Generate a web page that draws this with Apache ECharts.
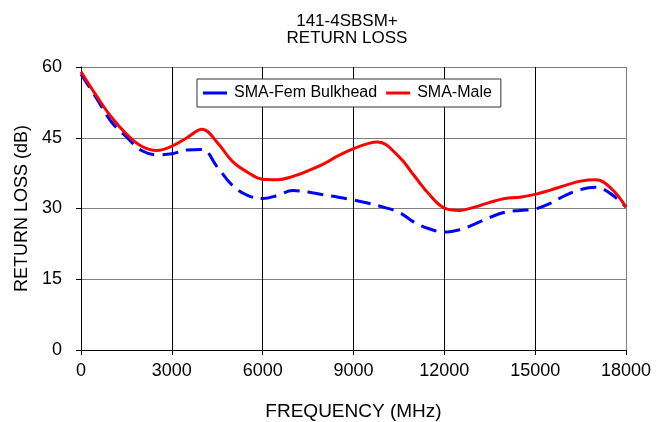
<!DOCTYPE html>
<html>
<head>
<meta charset="utf-8">
<script src="https://cdn.jsdelivr.net/npm/echarts@6/dist/echarts.min.js"></script>
<style>
  html, body { margin: 0; padding: 0; background: #fff; }
  #chart { width: 667px; height: 422px; }
</style>
</head>
<body>
<div id="chart"></div>
<script>
const freqs = [
  0, 500, 1000, 1500, 2000, 2500, 3000, 3500, 4000, 4500, 5000, 5500, 6000,
  6500, 7000, 7500, 8000, 8500, 9000, 9500, 9800, 10500, 11000, 11500, 12000,
  12500, 13000, 13500, 14000, 14500, 15000, 15500, 16000, 16500, 17000, 17500, 18000,
];
const femBulkhead = [
  58.5, 53.5, 48.4, 45.2, 42.3, 41.4, 41.6, 42.4, 42.5, 38.8, 34.9, 32.8, 32.1,
  32.8, 33.8, 33.5, 32.9, 32.4, 31.8, 31.1, 30.6, 29.2, 27.1, 25.7, 25.0,
  25.5, 26.7, 28.1, 29.2, 29.6, 29.9, 31.1, 32.8, 34.0, 34.5, 33.1, 30.3,
];
const smaMale = [
  59.0, 54.0, 49.4, 45.8, 43.2, 42.3, 43.2, 45.0, 46.8, 44.0, 40.0, 37.7, 36.2,
  36.1, 36.8, 38.0, 39.4, 41.2, 42.7, 43.8, 44.1, 41.0, 37.0, 33.0, 30.1,
  29.6, 30.3, 31.3, 32.1, 32.4, 33.0, 33.9, 34.9, 35.8, 36.1, 34.3, 30.3,
];
const seriesNames = ["SMA-Fem Bulkhead", "SMA-Male"];

const font = "Liberation Sans, Arial, sans-serif";
const chart = echarts.init(document.getElementById("chart"), null, { renderer: "canvas" });

const toPairs = (values) => freqs.map((f, i) => [f, values[i]]);

chart.setOption({
  animation: false,
  title: {
    text: "141-4SBSM+\nRETURN LOSS",
    left: 347,
    top: 13,
    padding: 0,
    textAlign: "center",
    textStyle: {
      fontFamily: font,
      fontSize: 17,
      fontWeight: "normal",
      color: "#000",
      lineHeight: 17,
    },
  },
  legend: {
    data: seriesNames.map((name) => ({ name, icon: "rect" })),
    left: 197,
    top: 79,
    padding: [6, 9, 6, 6],
    itemWidth: 24,
    itemHeight: 3,
    itemGap: 9,
    backgroundColor: "#fff",
    borderColor: "#333",
    borderWidth: 1,
    borderRadius: 0,
    textStyle: { fontFamily: font, fontSize: 16, color: "#000", padding: [0, 0, 0, 2] },
  },
  grid: {
    left: 81,
    right: 41,
    top: 67,
    bottom: 72,
    containLabel: false,
    outerBoundsMode: "none",
  },
  xAxis: {
    type: "value",
    min: 0,
    max: 18000,
    interval: 3000,
    name: "FREQUENCY (MHz)",
    nameLocation: "middle",
    nameGap: 52,
    nameTextStyle: { fontFamily: font, fontSize: 19, color: "#000" },
    axisLine: { show: true, lineStyle: { color: "#000", width: 1 } },
    axisTick: { show: true, inside: false, length: 5, lineStyle: { color: "#000" } },
    axisLabel: {
      fontFamily: font,
      fontSize: 18,
      color: "#000",
      margin: 12,
      formatter: (v) => String(v),
    },
    splitLine: {
      show: true,
      lineStyle: {
        color: ["#000", "#000", "#000", "#000", "#000", "#000", "#808080"],
        width: 1,
      },
    },
  },
  yAxis: {
    type: "value",
    min: 0,
    max: 60,
    interval: 15,
    name: "RETURN LOSS (dB)",
    nameLocation: "middle",
    nameGap: 43,
    nameTextStyle: { fontFamily: font, fontSize: 18, color: "#000" },
    axisLine: { show: true, lineStyle: { color: "#000", width: 1 } },
    axisTick: { show: true, inside: false, length: 5, lineStyle: { color: "#000" } },
    axisLabel: { fontFamily: font, fontSize: 18, color: "#000", margin: 19 },
    splitLine: { show: true, lineStyle: { color: "#808080", width: 1 } },
  },
  series: [
    {
      name: seriesNames[0],
      type: "line",
      data: toPairs(femBulkhead),
      smooth: 0.4,
      symbol: "none",
      z: 3,
      itemStyle: { color: "#0000ff" },
      lineStyle: { color: "#0000ff", width: 3, type: [16, 8] },
    },
    {
      name: seriesNames[1],
      type: "line",
      data: toPairs(smaMale),
      smooth: 0.4,
      symbol: "none",
      z: 4,
      itemStyle: { color: "#ff0000" },
      lineStyle: { color: "#ff0000", width: 3 },
    },
  ],
});
</script>
</body>
</html>
